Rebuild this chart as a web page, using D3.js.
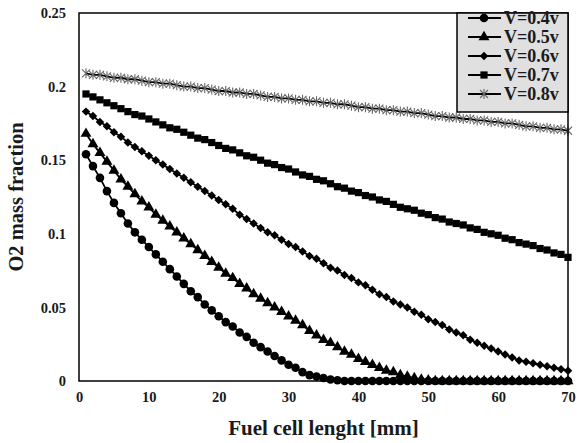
<!DOCTYPE html>
<html>
<head>
<meta charset="utf-8">
<script src="https://cdn.jsdelivr.net/npm/d3@7"></script>
<style>
  body { margin: 0; background: #fff; }
  text { font-family: "Liberation Serif", "Times New Roman", serif; font-weight: bold; fill: #1a1a1a; }
</style>
</head>
<body>
<div id="chart"></div>
<script>
// lengths along the cell [mm]
const lengths = d3.range(1, 71);

const v04 = [0.154,0.146,0.138,0.129,0.121,0.114,0.107,0.101,0.096,0.091,
  0.086,0.081,0.076,0.071,0.066,0.061,0.057,0.052,0.048,0.044,
  0.040,0.037,0.033,0.030,0.026,0.023,0.020,0.017,0.014,0.011,
  0.009,0.006,0.004,0.003,0.002,0.001,0.0005,0,0,0,
  0,0,0,0,0,0,0,0,0,0,
  0,0,0,0,0,0,0,0,0,0,
  0,0,0,0,0,0,0,0,0,0];

const v05 = [0.168,0.161,0.155,0.149,0.143,0.137,0.132,0.127,0.122,0.118,
  0.113,0.109,0.105,0.101,0.097,0.093,0.089,0.085,0.081,0.077,
  0.073,0.070,0.066,0.063,0.059,0.056,0.053,0.050,0.047,0.044,
  0.041,0.038,0.034,0.031,0.028,0.026,0.023,0.020,0.018,0.015,
  0.013,0.011,0.009,0.007,0.006,0.004,0.003,0.002,0.001,0.0005,
  0,0,0,0,0,0,0,0,0,0,
  0,0,0,0,0,0,0,0,0,0];

const v06 = [0.183,0.180,0.176,0.173,0.169,0.166,0.162,0.159,0.156,0.153,
  0.150,0.147,0.144,0.141,0.138,0.135,0.132,0.129,0.126,0.123,
  0.120,0.117,0.113,0.110,0.107,0.104,0.101,0.099,0.096,0.093,
  0.091,0.088,0.085,0.083,0.080,0.077,0.075,0.072,0.070,0.067,
  0.065,0.062,0.059,0.057,0.054,0.052,0.050,0.047,0.045,0.042,
  0.040,0.038,0.035,0.033,0.031,0.028,0.026,0.024,0.022,0.020,
  0.018,0.016,0.014,0.013,0.012,0.011,0.010,0.009,0.008,0.007];

const v07 = [0.195,0.193,0.191,0.189,0.187,0.185,0.183,0.181,0.180,0.178,
  0.176,0.174,0.172,0.171,0.169,0.167,0.165,0.164,0.162,0.160,
  0.158,0.157,0.155,0.153,0.152,0.150,0.148,0.147,0.145,0.144,
  0.142,0.140,0.139,0.137,0.136,0.134,0.132,0.131,0.129,0.128,
  0.126,0.125,0.123,0.122,0.120,0.118,0.117,0.116,0.114,0.113,
  0.111,0.110,0.108,0.107,0.106,0.104,0.103,0.101,0.100,0.099,
  0.097,0.096,0.094,0.093,0.092,0.090,0.089,0.087,0.086,0.084];

const v08 = [0.209,0.208,0.208,0.207,0.206,0.206,0.205,0.205,0.204,0.203,
  0.203,0.202,0.202,0.201,0.200,0.200,0.199,0.199,0.198,0.197,
  0.197,0.196,0.196,0.195,0.195,0.194,0.193,0.193,0.192,0.192,
  0.191,0.191,0.190,0.190,0.189,0.189,0.188,0.188,0.187,0.186,
  0.186,0.185,0.185,0.184,0.184,0.183,0.183,0.182,0.182,0.181,
  0.180,0.180,0.179,0.179,0.178,0.178,0.177,0.177,0.176,0.176,
  0.175,0.175,0.174,0.173,0.173,0.172,0.172,0.171,0.171,0.170];

const seriesNames = ["V=0.4v", "V=0.5v", "V=0.6v", "V=0.7v", "V=0.8v"];
const xTicks = [0, 10, 20, 30, 40, 50, 60, 70];
const yTicks = [0, 0.05, 0.1, 0.15, 0.2, 0.25];

const width = 577, height = 443;
const margin = { top: 13, left: 79, bottom: 62, right: 9 };
const iwidth = width - margin.left - margin.right;
const iheight = height - margin.top - margin.bottom;

const svg = d3.select("#chart").append("svg")
  .attr("width", width)
  .attr("height", height);

const g = svg.append("g").attr("transform", `translate(${margin.left},${margin.top})`);

const x = d3.scaleLinear().domain([0, 70]).range([0, iwidth]);
const y = d3.scaleLinear().domain([0, 0.25]).range([iheight, 0]);

// marker shapes
const starPath = s => `M${-s},${-s}L${s},${s}M${-s},${s}L${s},${-s}M0,${-s - 1}L0,${s + 1}`;
const shapes = [
  { sym: d3.symbolCircle, size: 58 },
  { sym: d3.symbolTriangle, size: 52 },
  { sym: d3.symbolDiamond2, size: 46 },
  { sym: d3.symbolSquare, size: 52 },
  { star: true }
];

const allSeries = [v04, v05, v06, v07, v08].map((vals, i) => ({
  name: seriesNames[i],
  shape: shapes[i],
  points: lengths.map((l, j) => ({ l, v: vals[j] }))
}));

const line = d3.line().x(d => x(d.l)).y(d => y(d.v));

function drawMarker(sel, shape) {
  if (shape.star) {
    sel.append("path").attr("d", starPath(4))
      .attr("stroke", "#666").attr("stroke-width", 1.1).attr("fill", "none");
  } else {
    sel.append("path").attr("d", d3.symbol(shape.sym, shape.size)())
      .attr("fill", "#000");
  }
}

allSeries.forEach(s => {
  g.append("path")
    .datum(s.points)
    .attr("fill", "none")
    .attr("stroke", "#000")
    .attr("stroke-width", 1.8)
    .attr("d", line);

  g.append("g").selectAll("g")
    .data(s.points)
    .enter().append("g")
    .attr("transform", d => `translate(${x(d.l)},${y(d.v)})`)
    .each(function () { drawMarker(d3.select(this), s.shape); });
});

// frame
g.append("rect")
  .attr("x", 0).attr("y", 0)
  .attr("width", iwidth).attr("height", iheight)
  .attr("fill", "none").attr("stroke", "#000").attr("stroke-width", 1.5);

// axes (labels only)
const xAxis = g.append("g")
  .attr("transform", `translate(0,${iheight})`)
  .call(d3.axisBottom(x).tickValues(xTicks).tickSize(0).tickPadding(11).tickFormat(d3.format("d")));
const yAxis = g.append("g")
  .call(d3.axisLeft(y).tickValues(yTicks).tickSize(0).tickPadding(13).tickFormat(d => d === 0 ? "0" : String(+d.toFixed(2))));
[xAxis, yAxis].forEach(a => {
  a.select(".domain").remove();
  a.selectAll("text")
    .attr("font-family", "Liberation Serif, serif")
    .attr("font-weight", "bold")
    .attr("font-size", 14.5)
    .attr("fill", "#1a1a1a");
});

// axis titles
svg.append("text")
  .attr("x", margin.left + iwidth / 2)
  .attr("y", 435)
  .attr("text-anchor", "middle")
  .attr("font-size", 21)
  .text("Fuel cell lenght [mm]");

svg.append("text")
  .attr("transform", `translate(23,${margin.top + iheight / 2}) rotate(-90)`)
  .attr("text-anchor", "middle")
  .attr("font-size", 20.5)
  .text("O2 mass fraction");

// legend
const legend = g.append("g").attr("transform", `translate(${iwidth - 111},0)`);
legend.append("rect")
  .attr("width", 111).attr("height", 99)
  .attr("fill", "#e0e0e0").attr("stroke", "#000").attr("stroke-width", 1.5);

allSeries.forEach((s, i) => {
  const row = legend.append("g").attr("transform", `translate(0,${5 + i * 19})`);
  row.append("line")
    .attr("x1", 11).attr("x2", 44).attr("y1", 0).attr("y2", 0)
    .attr("stroke", "#000").attr("stroke-width", 1.8);
  const m = row.append("g").attr("transform", "translate(27,0)");
  drawMarker(m, s.shape);
  row.append("text")
    .attr("x", 47).attr("y", 6)
    .attr("font-size", 18)
    .text(s.name);
});
</script>
</body>
</html>
